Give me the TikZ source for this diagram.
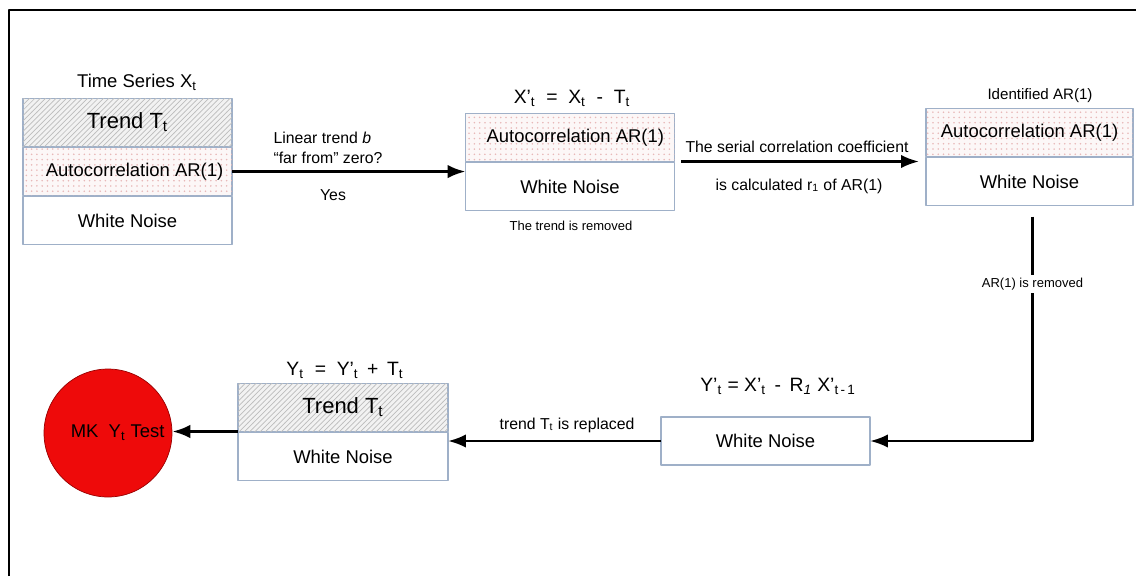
\documentclass[tikz,border=0pt]{standalone}
\usepackage{fontspec}
\setmainfont{Liberation Sans}
\usetikzlibrary{arrows.meta,calc,positioning,patterns}
\definecolor{borde}{HTML}{9FB0C8}
\definecolor{fondotrend}{HTML}{F2F2F2}
\definecolor{rayas}{HTML}{BDBDBD}
\definecolor{fondoar}{HTML}{FCF7F7}
\definecolor{puntos}{HTML}{E8B8B8}
\definecolor{rojomk}{HTML}{EE0A0A}

\begin{document}
\begin{tikzpicture}[x=0.02cm, y=-0.02cm, >=Latex, line join=round,
  seg/.style={draw=borde, line width=0.8pt, minimum width=4.18cm, minimum height=0.96cm,
    inner sep=0pt, outer sep=0pt, font=\fontsize{10.5}{12}\selectfont},
  trendseg/.style={seg, fill=fondotrend, postaction={pattern=north east lines, pattern color=rayas},
    font=\fontsize{12.5}{14}\selectfont},
  arseg/.style={seg, fill=fondoar, postaction={pattern=dots, pattern color=puntos}},
  noiseseg/.style={seg, fill=white},
  flecha/.style={->, line width=1.6pt},
  eq/.style={font=\fontsize{11}{13}\selectfont},
  nota/.style={font=\fontsize{9}{11}\selectfont},
  chica/.style={font=\fontsize{7.4}{9}\selectfont}]
  \useasboundingbox (0,0) rectangle (1136,576);
  \fill[white] (0,0) rectangle (1136,576);
  \draw[line width=1.3pt] (9,576) -- (9,10) -- (1136,10);

  % Serie original
  \node[trendseg] (t1) at (127.5,122.5) {Trend T\textsubscript{t}};
  \node[arseg, below=0.6pt of t1] (a1) {\hspace*{8pt}Autocorrelation AR(1)};
  \node[noiseseg, below=0.6pt of a1] (w1) {White Noise};
  \node[font=\fontsize{10.5}{12}\selectfont] (lt1) at (137,82) {Time Series X\textsubscript{t}};

  % Sin tendencia
  \node[arseg] (a2) at (570,137.5) {\hspace*{6pt}Autocorrelation AR(1)};
  \node[noiseseg, below=0.6pt of a2] (w2) {White Noise};
  \node[eq] (lt2) at (572,98) {X’\textsubscript{t} \ = \ X\textsubscript{t} \ - \ T\textsubscript{t}};
  \node[chica] (lb2) at (571,226) {The trend is removed};

  % AR(1) identificado
  \node[arseg, minimum width=4.14cm] (a3) at (1029.5,132.5) {Autocorrelation AR(1)};
  \node[noiseseg, minimum width=4.14cm, below=0.6pt of a3] (w3) {White Noise};
  \node[font=\fontsize{8.6}{10}\selectfont] (lt3) at (1040,96) {Identified AR(1)};

  % Residuo
  \node[noiseseg] (w4) at (765.5,441) {White Noise};
  \node[eq] (lt4) at (778,386) {Y’\textsubscript{t} = X’\textsubscript{t} \,- \,R\textsubscript{\itshape 1} X’\textsubscript{t\,-\,1}};

  % Serie reconstruida
  \node[trendseg, minimum width=4.2cm] (t5) at (343,407.5) {Trend T\textsubscript{t}};
  \node[noiseseg, minimum width=4.2cm, below=0.6pt of t5] (w5) {White Noise};
  \node[eq] (lt5) at (345,370) {Y\textsubscript{t} \ = \ Y’\textsubscript{t} \,+ \,T\textsubscript{t}};

  % Prueba MK
  \node[circle, fill=rojomk, draw=red!60!black, line width=0.4pt, minimum size=2.56cm,
    inner sep=0pt, font=\fontsize{10.5}{12}\selectfont] (mk) at (108,433) {\hspace*{11pt}MK \ Y\textsubscript{t} Test};

  % Conectores
  \draw[flecha] (a1.east) -- (a1.east -| w2.west);
  \node[nota, align=left] (q1) at (328,148) {Linear trend \textit{b}\\“far from” zero?};
  \node[nota] (y1) at (333,195) {Yes};

  \draw[flecha] ($(a2.south east)+(7,0)$) -- ($(a2.south east -| w3.west)+(-7,0)$);
  \node[nota] (s1) at (797,147) {The serial correlation coefficient};
  \node[nota] (s2) at (799,186) {is calculated r\textsubscript{1} of AR(1)};

  \draw[flecha] ($(w3.south)+(3,11)$) |- (w4.east)
    node[chica, pos=0.15, fill=white, inner sep=1.5pt] {AR(1) is removed};

  \draw[flecha] (w4.west) -- (w4.west -| w5.east);
  \node[nota] (r1) at (567,425) {trend T\textsubscript{t} is replaced};

  \draw[flecha] (t5.south west) -- (t5.south west -| mk.east);
\end{tikzpicture}
\end{document}
